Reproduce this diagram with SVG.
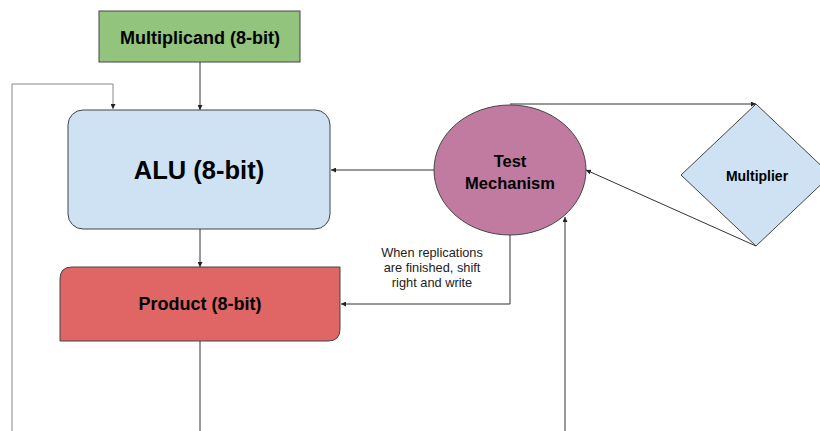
<svg xmlns="http://www.w3.org/2000/svg" width="820" height="431" viewBox="0 0 820 431">
<style>
.n{stroke:#444;stroke-width:1}
.c{fill:none;stroke:#333;stroke-width:1}
.t{font-family:"Liberation Sans",Arial,sans-serif;font-weight:bold;fill:#000;text-anchor:middle}
.l{font-family:"Liberation Sans",Arial,sans-serif;fill:#222;text-anchor:middle;font-size:12.8px}
</style>
<defs>
<marker id="a" viewBox="0 0 8 8" refX="8" refY="4" markerWidth="5" markerHeight="5" orient="auto" markerUnits="userSpaceOnUse">
<path d="M0,0 L8,4 L0,8 z" fill="#222"/>
</marker>
</defs>
<rect width="820" height="431" fill="#fff"/>
<g id="connectors">
<path class="c" d="M200,62 V110" marker-end="url(#a)"/>
<path class="c" style="stroke:#888" d="M12,431 V84 H113 V109" marker-end="url(#a)"/>
<path class="c" d="M434,170 H331" marker-end="url(#a)"/>
<path class="c" d="M200,229 V267" marker-end="url(#a)"/>
<path class="c" d="M510,235 V304 H341" marker-end="url(#a)"/>
<path class="c" d="M510,104 H756" marker-end="url(#a)"/>
<path class="c" d="M756,246 L586,170" marker-end="url(#a)"/>
<path class="c" d="M565,431 V217" marker-end="url(#a)"/>
<path class="c" d="M200,341 V431"/>
</g>
<g id="multiplicand">
<rect class="n" x="99" y="11" width="201" height="51" fill="#93c47d"/>
<text class="t" x="200" y="44" font-size="18">Multiplicand (8-bit)</text>
</g>
<g id="alu">
<rect class="n" x="68" y="110" width="262" height="119" rx="15" fill="#cfe2f3"/>
<text class="t" x="199" y="179" font-size="25.5">ALU (8-bit)</text>
</g>
<g id="product">
<path class="n" d="M72,267 H340 V329 Q340,341 328,341 H60 V279 Q60,267 72,267 Z" fill="#e06666"/>
<text class="t" x="200" y="310" font-size="18">Product (8-bit)</text>
</g>
<g id="test">
<ellipse class="n" cx="510" cy="170" rx="76" ry="65" fill="#c27ba0"/>
<text class="t" x="510" y="167" font-size="16.5">Test</text>
<text class="t" x="510" y="189" font-size="16.5">Mechanism</text>
</g>
<g id="multiplier">
<path class="n" d="M756,104 L831,175 L756,246 L681,175 Z" fill="#cfe2f3"/>
<text class="t" x="757" y="181" font-size="14">Multiplier</text>
</g>
<g id="label">
<text class="l" x="432" y="257">When replications</text>
<text class="l" x="432" y="272">are finished, shift</text>
<text class="l" x="432" y="287">right and write</text>
</g>
</svg>
